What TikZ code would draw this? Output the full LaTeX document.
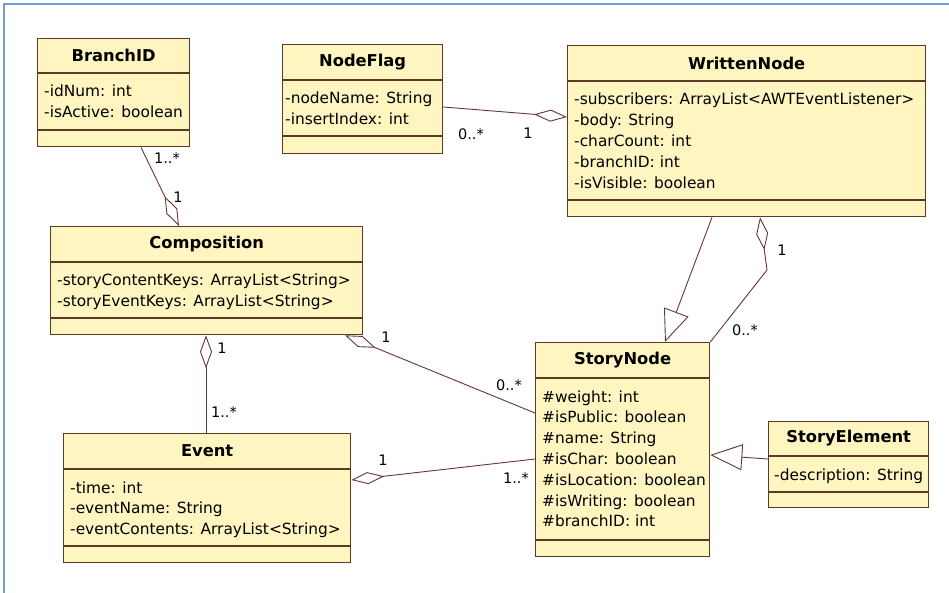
\documentclass[tikz,border=0pt]{standalone}
\usepackage{fontspec}
\setmainfont{DejaVu Sans}
\usetikzlibrary{arrows.meta,calc}
\definecolor{clsfill}{RGB}{255,245,192}
\definecolor{clsborder}{RGB}{92,58,36}
\definecolor{connc}{RGB}{100,55,50}
\definecolor{framec}{RGB}{110,155,220}
\newcommand{\attrfont}{\fontsize{15.4}{20.8}\selectfont}
\newcommand{\titlefont}{\fontsize{16.3}{20.8}\selectfont\bfseries}
\newcommand{\multfont}{\fontsize{14.5}{18}\selectfont}
\newcommand{\cpad}{7}
\tikzset{
  classbox/.style={draw=clsborder, fill=clsfill, line width=1.3pt, inner sep=0pt},
  classline/.style={draw=clsborder, line width=1.3pt},
  titletext/.style={font=\titlefont, inner sep=0pt},
  attrtext/.style={font=\attrfont, anchor=base west, inner sep=0pt},
  conn/.style={draw=connc, line width=0.9pt},
  agg/.style={conn, -{Diamond[open, length=33pt, width=12pt]}},
  gen/.style={conn, -{Triangle[open, length=32pt, width=26pt]}},
  mult/.style={font=\multfont, inner sep=0pt},
}
% #1 name, #2 x, #3 y, #4 width, #5 height, #6 title height, #7 title+attr height, #8 title, #9 attributes
\newcommand{\umlclass}[9]{%
  \node[classbox, minimum width=#4pt, minimum height=#5pt, anchor=north west] (#1) at (#2,#3) {};
  \draw[classline] ($(#1.north west)+(0,#6)$) -- ($(#1.north east)+(0,#6)$);
  \draw[classline] ($(#1.north west)+(0,#7)$) -- ($(#1.north east)+(0,#7)$);
  \node[titletext] (#1-t) at ($(#1.north)+(0,#6/2)$) {#8};
  \foreach \s [count=\i] in {#9} {
    \node[attrtext] (#1-a\i) at ($(#1.north west)+(\cpad,{#6+24+(\i-1)*20.8})$) {\s};
  }%
}
\begin{document}
\begin{tikzpicture}[x=1pt,y=-1pt]
\useasboundingbox (0,0) rectangle (949,593);
\fill[white] (0,0) rectangle (949,593);
\draw[framec, line width=1.5pt] (949,4) -- (4,4) -- (4,593);

\umlclass{branch}{37}{38}{152}{108}{35}{92}{BranchID}{-idNum: int, -isActive: boolean}
\renewcommand{\cpad}{3}
\umlclass{nodeflag}{282}{44}{160}{109}{36}{92}{NodeFlag}{-nodeName: String, -insertIndex: int}
\renewcommand{\cpad}{7}
\umlclass{written}{567}{45}{358}{171}{36}{155}{WrittenNode}{-subscribers: ArrayList<AWTEventListener>, -body: String, -charCount: int, -branchID: int, -isVisible: boolean}
\umlclass{comp}{50}{226}{312}{108}{36}{92}{Composition}{-storyContentKeys: ArrayList<String>, -storyEventKeys: ArrayList<String>}
\umlclass{event}{63}{433}{287}{129}{36}{113}{Event}{-time: int, -eventName: String, -eventContents: ArrayList<String>}
\umlclass{story}{535}{342}{174}{214}{36}{198}{StoryNode}{\#weight: int, \#isPublic: boolean, \#name: String, \#isChar: boolean, \#isLocation: boolean, \#isWriting: boolean, \#branchID: int}
\renewcommand{\cpad}{6}
\umlclass{elem}{768}{421}{160}{86}{35}{71}{StoryElement}{-description: String}

% connectors
\draw[agg] ($(branch.south west)+(104,0)$) -- ($(comp.north west)+(129,0)$);
\draw[agg] ($(nodeflag.north east)+(0,63)$) -- ($(written.north west)+(0,72)$);
\draw[gen] ($(written.south west)+(145,0)$) -- ($(story.north west)+(130,0)$);
\coordinate (bend) at (767,270);
\draw[agg] (story.north east) -- (bend) -- ($(written.south west)+(193,0)$);
\draw[agg] ($(story.north west)+(0,71)$) -- ($(comp.south west)+(295,0)$);
\draw[agg] ($(event.north west)+(143,0)$) -- ($(comp.south west)+(156,0)$);
\draw[agg] ($(story.north west)+(0,117)$) -- ($(event.north east)+(0,47)$);
\draw[gen] ($(elem.north west)+(0,38)$) -- ($(story.north east)+(0,113)$);

% multiplicities
\node[mult] (m-bc-a) at (167,158) {1..*};
\node[mult] (m-bc-b) at (178,197) {1};
\node[mult] (m-nw-a) at (471,134) {0..*};
\node[mult] (m-nw-b) at (528,133) {1};
\node[mult] (m-sw-a) at (782,250) {1};
\node[mult] (m-sw-b) at (745,330) {0..*};
\node[mult] (m-cs-a) at (386,337) {1};
\node[mult] (m-cs-b) at (509,385) {0..*};
\node[mult] (m-ce-a) at (222,348) {1};
\node[mult] (m-ce-b) at (224,412) {1..*};
\node[mult] (m-es-a) at (383,460) {1};
\node[mult] (m-es-b) at (516,478) {1..*};
\end{tikzpicture}
\end{document}
